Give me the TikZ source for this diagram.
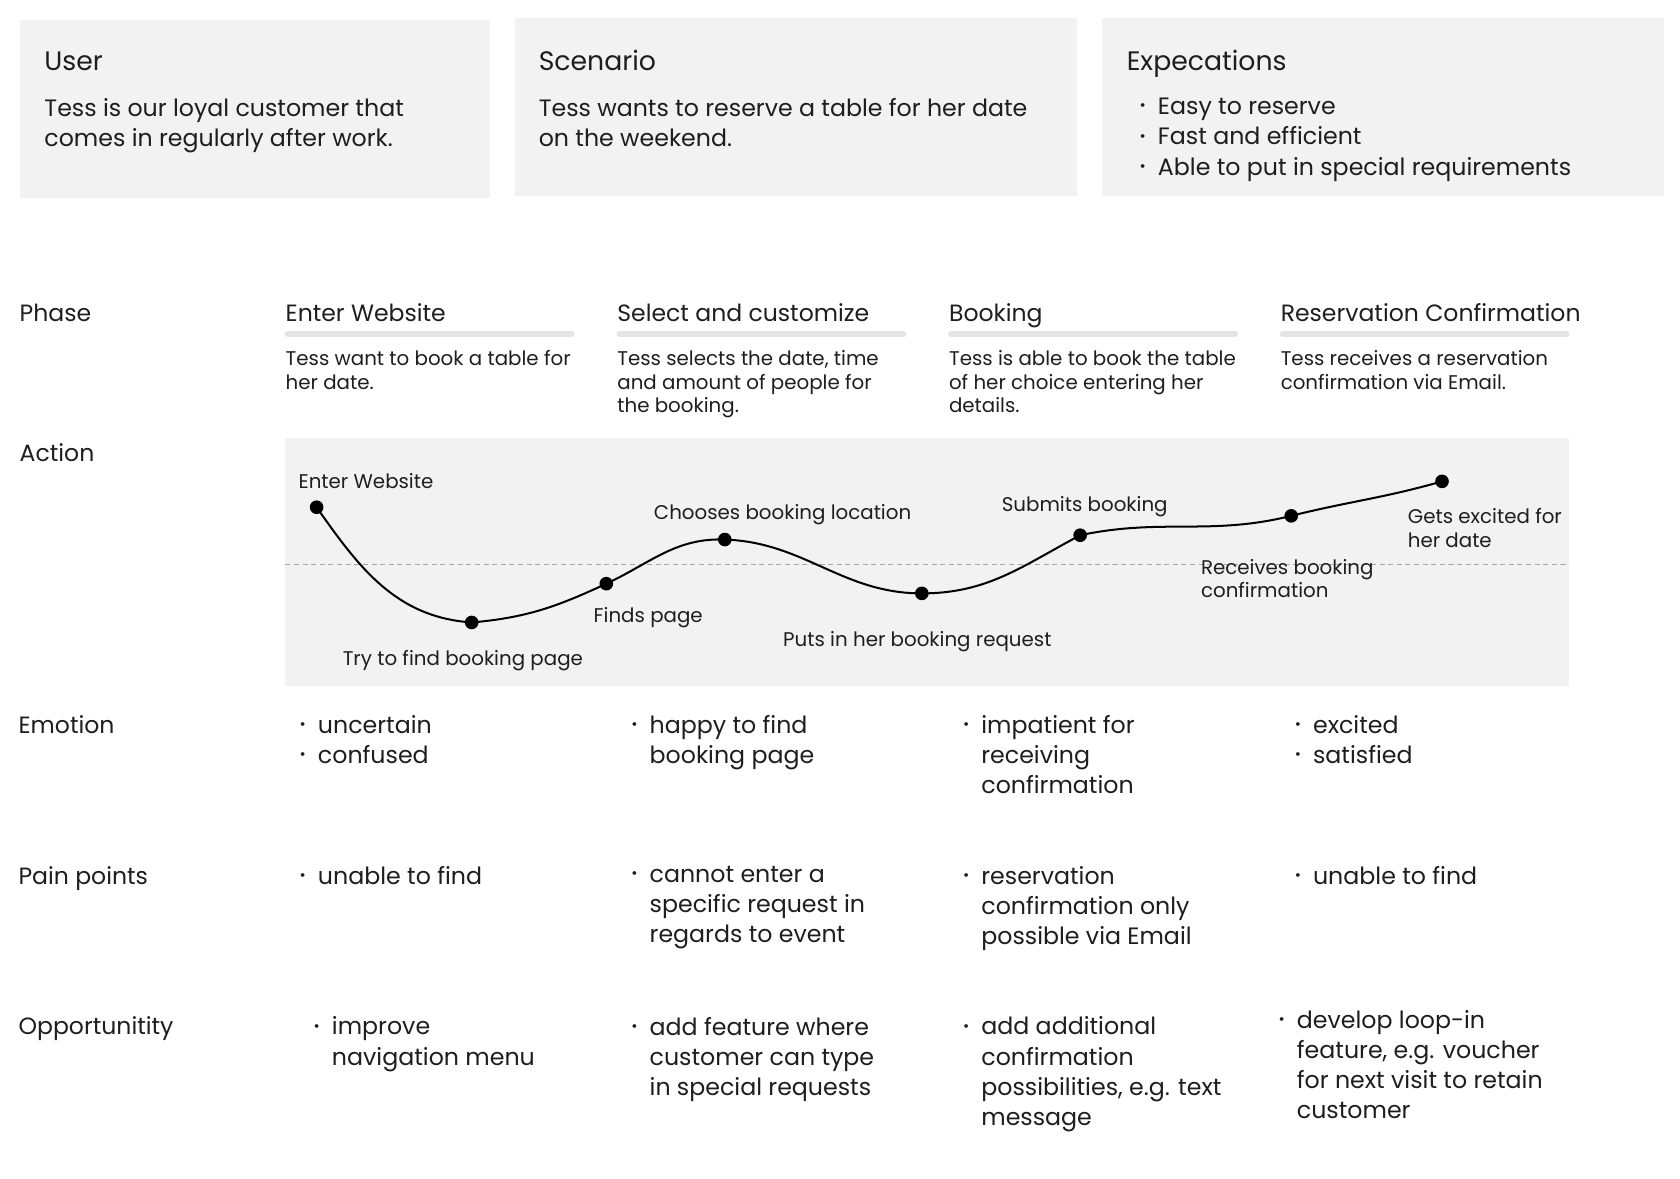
\documentclass[tikz,border=0pt]{standalone}
\usepackage{fontspec}
\setmainfont{Poppins}
\definecolor{cardgray}{HTML}{F2F2F2}
\definecolor{bargray}{HTML}{E4E4E4}
\definecolor{ink}{HTML}{1E1E1E}
\newcommand\itm{\makebox[12.75pt][l]{\raisebox{0.3ex}{\fontsize{10.5}{10.5}\selectfont•}}}
\newcommand\itmsp{\hspace*{12.75pt}}
\tikzset{
	card/.style={fill=cardgray, draw=none},
	head/.style={anchor=north west, inner sep=0, font=\fontsize{18.6}{22}\selectfont, text=ink},
	body/.style={anchor=north west, inner sep=0, align=left, font=\fontsize{16.5}{21}\selectfont, text=ink},
	rowlabel/.style={anchor=north west, inner sep=0, font=\fontsize{16.4}{21}\selectfont, text=ink},
	small/.style={anchor=north west, inner sep=0, align=left, font=\fontsize{13.8}{16.5}\selectfont, text=ink},
	bar/.style={bargray, line width=3.75pt, line cap=round},
	dot/.style={circle, fill=black, inner sep=0, minimum size=9.5pt},
}
\begin{document}
\begin{tikzpicture}[x=0.75pt, y=0.75pt]
	\useasboundingbox (0, 0) rectangle (1560, -1094);
	% top cards
	\draw[card] (19, -19) rectangle (455, -184);
	\draw[card] (478, -17) rectangle (1000, -182);
	\draw[card] (1023, -17) rectangle (1545, -182);
	\node[head] (user) at (41, -48) {User};
	\node[body] (usertext) at (41, -91) {Tess is our loyal customer that\\comes in regularly after work.};
	\node[head] (scen) at (500, -46) {Scenario};
	\node[body] (scentext) at (500, -91) {Tess wants to reserve a table for her date\\on the weekend.};
	\node[head] (expect) at (1046, -46) {Expecations};
	\node[body] (expecttext) at (1058, -91) {\itm Easy to reserve\\\itm Fast and efficient\\\itm Able to put in special requirements};
	% row labels
	\node[rowlabel] (phase) at (18, -282) {Phase};
	\node[rowlabel] (action) at (18, -412) {Action};
	\node[rowlabel] (emotion) at (17, -664) {Emotion};
	\node[rowlabel] (pain) at (17, -804) {Pain points};
	\node[rowlabel] (opp) at (17, -944) {Opportunitity};
	% phases
	\node[rowlabel] (ph1) at (265, -282) {Enter Website};
	\node[rowlabel] (ph2) at (573, -282) {Select and customize};
	\node[rowlabel] (ph3) at (881, -282) {Booking};
	\node[rowlabel] (ph4) at (1189, -282) {Reservation Confirmation};
	\foreach \c in {265, 573, 881, 1189}
		\draw[bar] (\c+2, -310) -- (\c+266, -310);
	\node[small] (ph1text) at (265, -325) {Tess want to book a table for\\her date.};
	\node[small] (ph2text) at (573, -325) {Tess selects the date, time\\and amount of people for\\the booking.};
	\node[small] (ph3text) at (881, -325) {Tess is able to book the table\\of her choice entering her\\details.};
	\node[small] (ph4text) at (1189, -325) {Tess receives a reservation\\confirmation via Email.};
	% action panel
	\draw[card] (265, -407) rectangle (1457, -637);
	\coordinate (midl) at (265, -524);
	\coordinate (midr) at (1457, -524);
	\draw[gray!70, line width=0.8pt, dash pattern=on 3.5pt off 2.5pt] (midl) -- (midr);
	\coordinate (p1) at (294, -471);
	\coordinate (p2) at (438, -578);
	\coordinate (p3) at (563, -542);
	\coordinate (p4) at (673, -501);
	\coordinate (p5) at (856, -551);
	\coordinate (p6) at (1003, -497);
	\coordinate (p7) at (1199, -479);
	\coordinate (p8) at (1339, -447);
	\draw[black, line width=1.4pt] (p1) to[out=-55, in=176] (p2) to[out=5, in=205] (p3)
		to[out=25, in=178] (p4) to[out=-2, in=180] (p5) to[out=0, in=208] (p6)
		to[out=12, in=194] (p7) to[out=14, in=196] (p8);
	\foreach \p in {p1, p2, p3, p4, p5, p6, p7, p8}
		\node[dot] at (\p) {};
	\node[small] (a1) at (277, -439) {Enter Website};
	\node[small] (a2) at (318, -604) {Try to find booking page};
	\node[small] (a3) at (551, -564) {Finds page};
	\node[small] (a4) at (607, -468) {Chooses booking location};
	\node[small] (a5) at (727, -586) {Puts in her booking request};
	\node[small] (a6) at (930, -461) {Submits booking};
	\node[small] (a7) at (1115, -519) {Receives booking\\confirmation};
	\node[small] (a8) at (1307, -472) {Gets excited for\\her date};
	% emotion
	\node[body] (em1) at (278, -664) {\itm uncertain\\\itm confused};
	\node[body] (em2) at (586, -664) {\itm happy to find\\\itmsp booking page};
	\node[body] (em3) at (894, -664) {\itm impatient for\\\itmsp receiving\\\itmsp confirmation};
	\node[body] (em4) at (1202, -664) {\itm excited\\\itm satisfied};
	% pain points
	\node[body] (pp1) at (278, -804) {\itm unable to find};
	\node[body] (pp2) at (586, -804) {\itm cannot enter a\\\itmsp specific request in\\\itmsp regards to event};
	\node[body] (pp3) at (894, -804) {\itm reservation\\\itmsp confirmation only\\\itmsp possible via Email};
	\node[body] (pp4) at (1202, -804) {\itm unable to find};
	% opportunity
	\node[body] (op1) at (291, -944) {\itm improve\\\itmsp navigation menu};
	\node[body] (op2) at (586, -944) {\itm add feature where\\\itmsp customer can type\\\itmsp in special requests};
	\node[body] (op3) at (894, -944) {\itm add additional\\\itmsp confirmation\\\itmsp possibilities, e.g. text\\\itmsp message};
	\node[body] (op4) at (1187, -938) {\itm develop loop-in\\\itmsp feature, e.g. voucher\\\itmsp for next visit to retain\\\itmsp customer};
\end{tikzpicture}
\end{document}
